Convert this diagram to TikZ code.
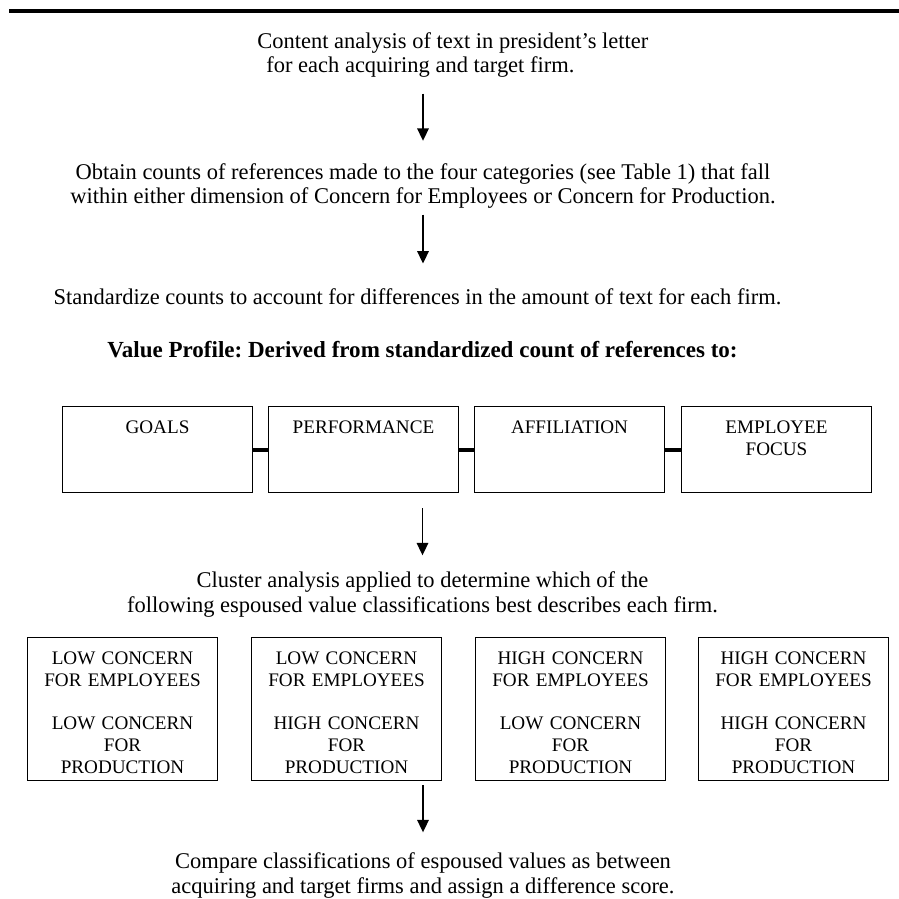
\documentclass[tikz,border=0pt]{standalone}
\usepackage{fontspec}
\setmainfont{Liberation Serif}
\usetikzlibrary{arrows.meta}
\frenchspacing

\begin{document}
\begin{tikzpicture}[
  x=0.02cm, y=-0.02cm,
  txt/.style    = {font=\fontsize{12.8}{14.2}\selectfont, align=center,
                   inner sep=0pt},
  btxt/.style   = {txt, font=\fontsize{13.1}{14.2}\selectfont\bfseries},
  valbox/.style = {draw, line width=0.6pt, anchor=north west, inner sep=0pt,
                   text width=3.8cm, align=center,
                   text height=0.53cm, text depth=1.19cm,
                   font=\fontsize{10.9}{12.7}\selectfont},
  clsbox/.style = {valbox, text depth=2.33cm},
  arr/.style    = {-{Triangle[length=0.25cm,width=0.23cm]}, line width=1pt},
  link/.style   = {line width=2.3pt},
]
\useasboundingbox (0,0) rectangle (899,899);

% top rule
\draw[line width=1.8pt] (9,11) -- (899,11);

% steps
\node[txt, align=left, anchor=west] (content) at (257,55)
  {Content analysis of text in president’s letter\\
   \hspace*{0.18cm}for each acquiring and target firm.};
\node[txt] (obtain) at (423,186)
  {Obtain counts of references made to the four categories (see Table 1) that fall\\
   within either dimension of Concern for Employees or Concern for Production.};
\node[txt] (stdz) at (417.5,297)
  {Standardize counts to account for differences in the amount of text for each firm.};
\node[btxt] (profile) at (422.5,350)
  {Value Profile: Derived from standardized count of references to:};

% value profile
\node[valbox] (goals) at (62,406)  {GOALS};
\node[valbox] (perf)  at (268,406) {PERFORMANCE};
\node[valbox] (affil) at (474,406) {AFFILIATION};
\node[valbox] (empf)  at (681,406) {EMPLOYEE\\FOCUS};

\draw[link] (goals.east) -- (perf.west);
\draw[link] (perf.east)  -- (affil.west);
\draw[link] (affil.east) -- (empf.west);

\node[txt] (cluster) at (422.5,594.5)
  {Cluster analysis applied to determine which of the\\
   following espoused value classifications best describes each firm.};

% classifications
\node[clsbox] (ll) at (27,637)
  {LOW CONCERN\\FOR EMPLOYEES\\[0.41cm]LOW CONCERN\\FOR\\PRODUCTION};
\node[clsbox] (lh) at (251,637)
  {LOW CONCERN\\FOR EMPLOYEES\\[0.41cm]HIGH CONCERN\\FOR\\PRODUCTION};
\node[clsbox] (hl) at (475,637)
  {HIGH CONCERN\\FOR EMPLOYEES\\[0.41cm]LOW CONCERN\\FOR\\PRODUCTION};
\node[clsbox] (hh) at (698,637)
  {HIGH CONCERN\\FOR EMPLOYEES\\[0.41cm]HIGH CONCERN\\FOR\\PRODUCTION};

\node[txt] (compare) at (423,875.5)
  {Compare classifications of espoused values as between\\
   acquiring and target firms and assign a difference score.};

% arrows
\draw[arr, shorten <=0.31cm, shorten >=0.44cm]
  (content.south -| obtain.north) -- (obtain.north);
\draw[arr, shorten <=0.11cm, shorten >=0.5cm]
  (obtain.south) -- (obtain.south |- stdz.north);
\draw[arr, shorten <=0.3cm, shorten >=0.32cm]
  (perf.south -| cluster.north) -- (cluster.north);
\draw[arr, shorten <=0.08cm, shorten >=0.4cm]
  (lh.south -| compare.north) -- (compare.north);

\end{tikzpicture}
\end{document}
